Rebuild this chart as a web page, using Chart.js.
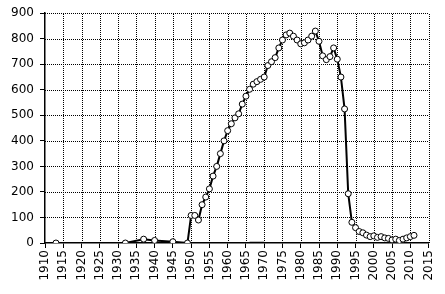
<!DOCTYPE html>
<html>
<head>
<meta charset="utf-8">
<script src="https://cdn.jsdelivr.net/npm/chart.js@4.4.0/dist/chart.umd.min.js"></script>
<style>
html,body{margin:0;padding:0;background:#fff;}
#wrap{width:445px;height:294px;}
</style>
</head>
<body>
<div id="wrap"><canvas id="c" width="445" height="294"></canvas></div>
<script>
const years = [1913,1932,1937,1940,1945,1949,1950,1951,1952,1953,1954,1955,1956,1957,1958,1959,1960,1961,1962,1963,1964,1965,1966,1967,1968,1969,1970,1971,1972,1973,1974,1975,1976,1977,1978,1979,1980,1981,1982,1983,1984,1985,1986,1987,1988,1989,1990,1991,1992,1993,1994,1995,1996,1997,1998,1999,2000,2001,2002,2003,2004,2005,2006,2007,2008,2009,2010,2011];
const values = [0,0,15,10,5,0,108,108,90,150,180,212,262,300,350,400,440,467,490,506,544,575,602,622,632,641,650,695,710,726,764,795,815,822,810,795,780,784,795,810,830,790,733,718,730,764,720,650,525,193,81,60,45,40,31,25,28,22,25,20,18,12,15,10,15,20,25,30];
const segYears = [1966,1970];
const segValues = [0,0];
const xTicks = [1910,1915,1920,1925,1930,1935,1940,1945,1950,1955,1960,1965,1970,1975,1980,1985,1990,1995,2000,2005,2010,2015];
const yTicks = [0,100,200,300,400,500,600,700,800,900];

const mainData = years.map((y,i)=>({x:y,y:values[i]}));
const segData = segYears.map((y,i)=>({x:y,y:segValues[i]}));

const dottedGrid = {
  id: 'dottedGrid',
  beforeDatasetsDraw(chart) {
    const {ctx, chartArea: a, scales: {x, y}} = chart;
    ctx.save();
    ctx.fillStyle = '#000';
    xTicks.forEach(v => {
      if (v === xTicks[0]) return;
      const px = Math.round(x.getPixelForValue(v));
      for (let py = Math.ceil(a.top); py < a.bottom; py += 2) ctx.fillRect(px, py, 1, 1);
    });
    yTicks.forEach(v => {
      if (v === 0) return;
      const py = Math.round(y.getPixelForValue(v));
      for (let px = Math.ceil(a.left); px < a.right; px += 2) ctx.fillRect(px, py, 1, 1);
    });
    ctx.restore();
  }
};

new Chart(document.getElementById('c'), {
  type: 'line',
  data: {
    datasets: [
      {data: mainData, borderColor: '#000', borderWidth: 2, pointRadius: 3,
       pointBackgroundColor: '#fff', pointBorderColor: '#000', pointBorderWidth: 1, tension: 0},
      {data: segData, borderColor: '#000', borderWidth: 2.5, pointRadius: 0, tension: 0}
    ]
  },
  options: {
    responsive: false,
    animation: false,
    layout: {padding: {top: 10, right: 10, left: 0, bottom: 0}},
    plugins: {legend: {display: false}, tooltip: {enabled: false}},
    scales: {
      x: {
        type: 'linear', min: 1910, max: 2015,
        afterBuildTicks: (s) => { s.ticks = xTicks.map(v => ({value: v})); },
        afterFit: (s) => { s.height = 51; },
        ticks: {
          autoSkip: false, minRotation: 90, maxRotation: 90,
          color: '#000', font: {family: 'DejaVu Sans', size: 12}, padding: 2,
          callback: (v) => String(v)
        },
        grid: {drawOnChartArea: false, drawTicks: true, tickLength: 5, color: '#000', lineWidth: 1},
        border: {color: '#000', width: 1.5}
      },
      y: {
        min: 0, max: 900,
        afterBuildTicks: (s) => { s.ticks = yTicks.map(v => ({value: v})); },
        afterFit: (s) => { s.width = 45; },
        ticks: {color: '#000', font: {family: 'DejaVu Sans', size: 12}, padding: 6},
        grid: {drawOnChartArea: false, tickLength: 5, color: '#000', lineWidth: 1},
        border: {color: '#000', width: 1.5}
      }
    }
  },
  plugins: [{
    id: 'bg',
    beforeDraw: (c) => {
      const ctx = c.ctx;
      ctx.save(); ctx.fillStyle = '#fff'; ctx.fillRect(0,0,c.width,c.height); ctx.restore();
    }
  }, dottedGrid]
});
</script>
</body>
</html>
